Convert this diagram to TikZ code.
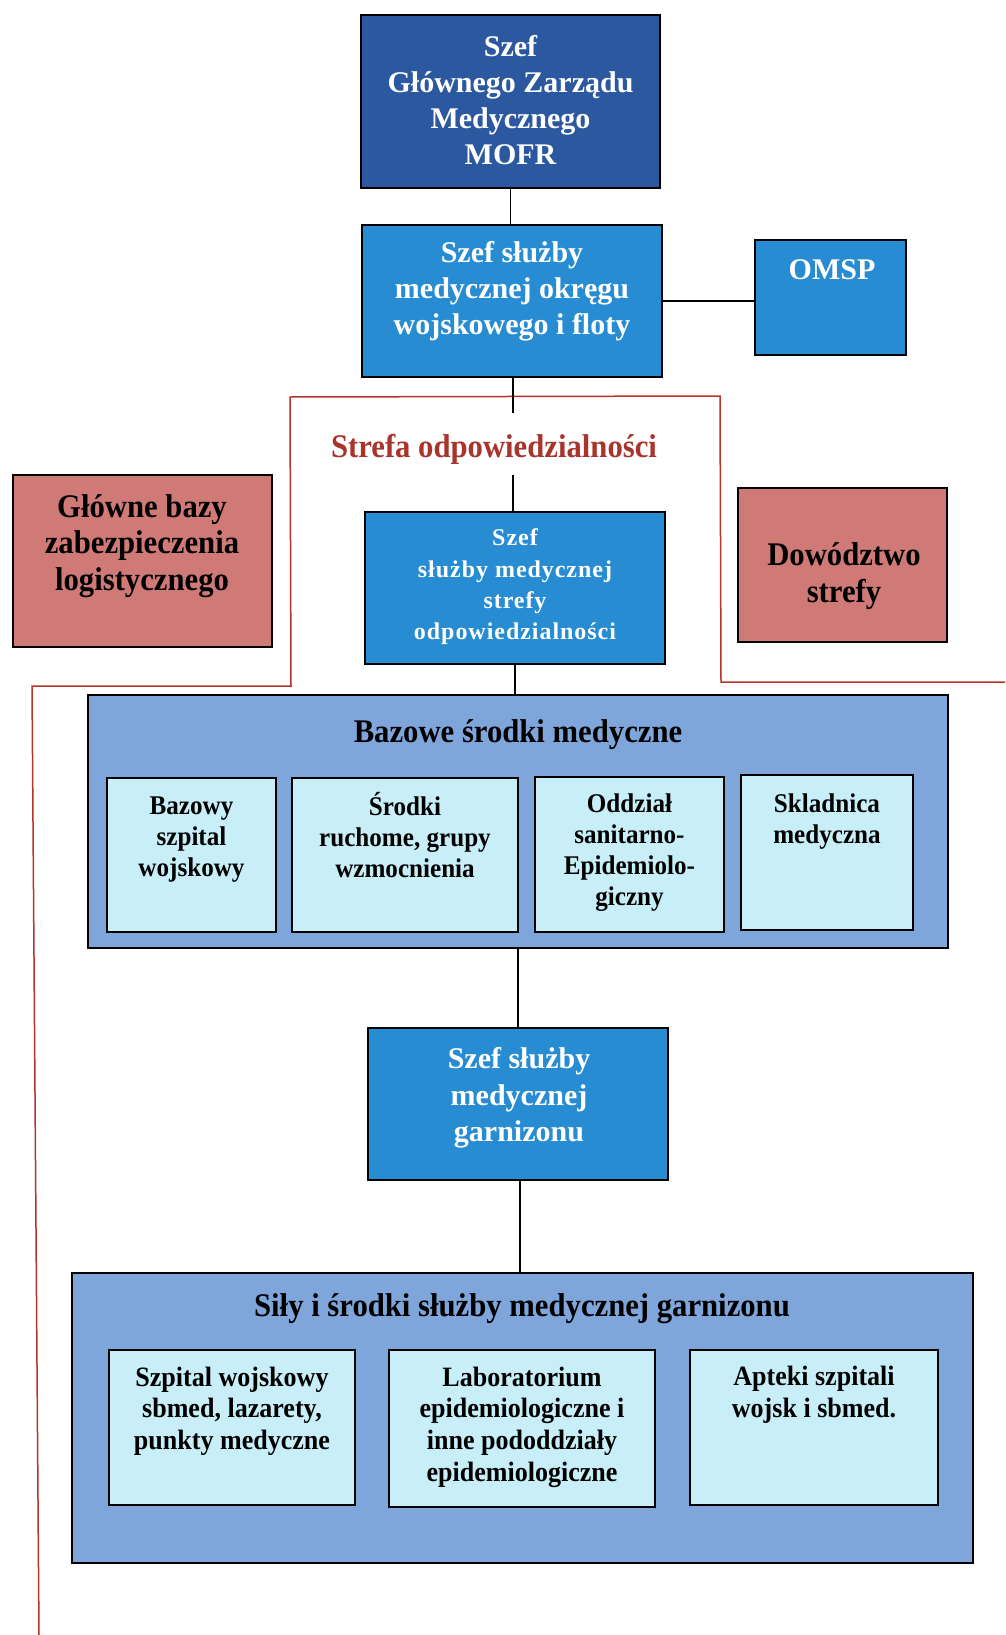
\documentclass[tikz,border=0pt]{standalone}
\usepackage{fontspec}
\setmainfont{Liberation Serif}
\newfontfamily\narrowserif{Liberation Serif}[FakeStretch=0.93]
\newfontfamily\spacedserif{Liberation Serif}[LetterSpace=4]

\definecolor{chiefblue}{RGB}{44,88,160}
\definecolor{unitblue}{RGB}{40,140,210}
\definecolor{rosebox}{RGB}{208,122,120}
\definecolor{groupblue}{RGB}{126,166,218}
\definecolor{cellcyan}{RGB}{200,238,248}
\definecolor{zoneline}{RGB}{182,52,42}
\definecolor{zonetext}{RGB}{168,52,44}

\tikzset{
  frame/.style={draw=black, line width=1.8pt, inner sep=0pt},
  chief/.style={frame, fill=chiefblue},
  unit/.style={frame, fill=unitblue},
  rose/.style={frame, fill=rosebox},
  group/.style={frame, fill=groupblue, line width=2.2pt},
  cell/.style={frame, fill=cellcyan},
  link/.style={draw=black, line width=1.8pt},
  zone/.style={draw=zoneline, line width=1.5pt},
  whitetxt/.style={text=white, align=center, inner sep=0pt,
    font=\fontsize{30}{36}\selectfont\bfseries},
  blacktxt/.style={text=black, align=center, inner sep=0pt,
    font=\narrowserif\fontsize{33}{36.5}\selectfont\bfseries},
  celltxt/.style={text=black, align=center, inner sep=0pt,
    font=\narrowserif\fontsize{27}{31}\selectfont\bfseries},
  lowcelltxt/.style={text=black, align=center, inner sep=0pt,
    font=\narrowserif\fontsize{28}{31.7}\selectfont\bfseries},
}

\begin{document}
\begin{tikzpicture}[x=1pt, y=-1pt]
\useasboundingbox (0,0) rectangle (1005,1635);

% area of responsibility outline
\draw[zone] (39,1635) -- (32,686) -- (291,686) -- (290,397)
  -- (720,396) -- (721,682) -- (1005,682);

% command chain
\node[chief, minimum width=299, minimum height=173] (top) at (510.5,101.5) {};
\node[whitetxt] (topT) at (510.5,100) {Szef\\Głównego Zarządu\\Medycznego\\MOFR};

\node[unit, minimum width=300, minimum height=152] (okr) at (512,301) {};
\node[whitetxt] (okrT) at (512,291) {Szef służby\\medycznej okręgu\\wojskowego i floty};

\node[unit, minimum width=151, minimum height=115] (omsp) at (830.5,297.5) {};
\node[whitetxt] (omspT) at (832,270) {OMSP};

\node[rose, minimum width=259, minimum height=172] (bazy) at (142.5,561) {};
\node[blacktxt] (bazyT) at (142,546) {Główne bazy\\zabezpieczenia\\logistycznego};

% gap in the chain where the zone title sits
\node[inner sep=0pt, minimum width=0pt, minimum height=62] (zone) at (513,444) {};
\node[text=zonetext, inner sep=0pt,
  font=\narrowserif\fontsize{33}{36}\selectfont\bfseries] (zoneT) at (494,449)
  {Strefa odpowiedzialności};

\node[unit, minimum width=300, minimum height=152] (sz3) at (515,588) {};
\node[text=white, align=center, inner sep=0pt,
  font=\spacedserif\fontsize{24}{31.3}\selectfont\bfseries] (sz3T) at (515,587)
  {Szef\\służby medycznej\\strefy\\odpowiedzialności};

\node[rose, minimum width=209, minimum height=154] (dow) at (842.5,565) {};
\node[blacktxt] (dowT) at (844,576) {Dowództwo\\strefy};

% base medical assets
\node[group, minimum width=860, minimum height=253] (baz) at (518,821.5) {};
\node[blacktxt] (bazT) at (518,735) {Bazowe środki medyczne};

\node[cell, minimum width=169, minimum height=154] (b1) at (191.5,855) {};
\node[celltxt] (b1T) at (191.5,840) {Bazowy\\szpital\\wojskowy};
\node[cell, minimum width=226, minimum height=154] (b2) at (405,855) {};
\node[celltxt] (b2T) at (405,835) {Środki\\ruchome, grupy\\wzmocnienia};
\node[cell, minimum width=189, minimum height=155] (b3) at (629.5,854.5) {};
\node[celltxt] (b3T) at (629.5,853) {Oddział\\sanitarno-\\Epidemiolo-\\giczny};
\node[cell, minimum width=172, minimum height=155] (b4) at (827,852.5) {};
\node[celltxt] (b4T) at (827,822) {Skladnica\\medyczna};

% garrison
\node[unit, minimum width=300, minimum height=152] (gar) at (518,1104) {};
\node[whitetxt, font=\fontsize{30}{36.5}\selectfont\bfseries] (garT) at (519,1098)
  {Szef służby\\medycznej\\garnizonu};

\node[group, minimum width=901, minimum height=290] (sil) at (522.5,1418) {};
\node[blacktxt] (silT) at (522,1309) {Siły i środki służby medycznej garnizonu};

\node[cell, minimum width=246, minimum height=155] (g1) at (232,1427.5) {};
\node[lowcelltxt] (g1T) at (232,1411) {Szpital wojskowy\\sbmed, lazarety,\\punkty medyczne};
\node[cell, minimum width=266, minimum height=157] (g2) at (522,1428.5) {};
\node[lowcelltxt] (g2T) at (522,1427) {Laboratorium\\epidemiologiczne i\\inne pododdziały\\epidemiologiczne};
\node[cell, minimum width=248, minimum height=155] (g3) at (814,1427.5) {};
\node[lowcelltxt] (g3T) at (814,1395) {Apteki szpitali\\wojsk i sbmed.};

% connectors
\draw[link] (top.south) -- (top.south |- okr.north);
\draw[link] (okr.east) -- (okr.east -| omsp.west);
\draw[link] (zone.north) -- (zone.north |- okr.south);
\draw[link] (zone.south) -- (zone.south |- sz3.north);
\draw[link] (sz3.south) -- (sz3.south |- baz.north);
\draw[link] (baz.south) -- (baz.south |- gar.north);
\draw[link] ([xshift=2pt]gar.south) -- ([xshift=2pt]gar.south |- sil.north);
\end{tikzpicture}
\end{document}
